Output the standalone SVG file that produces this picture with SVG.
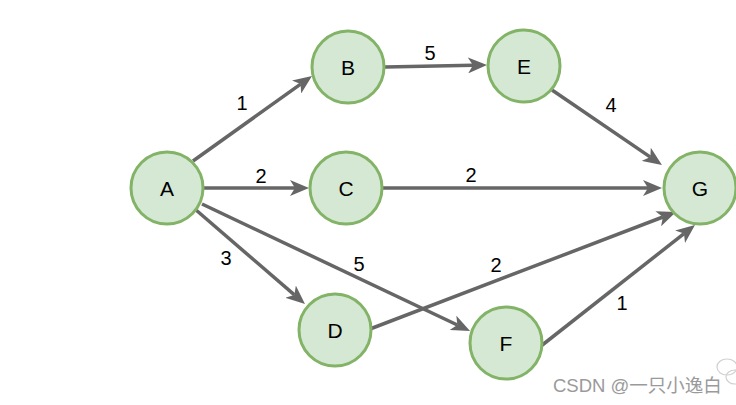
<svg xmlns="http://www.w3.org/2000/svg" width="736" height="405" viewBox="0 0 736 405">
<defs>
<marker id="arr" markerUnits="userSpaceOnUse" markerWidth="19" markerHeight="16" refX="5" refY="8" orient="auto">
<path d="M0,0 L19,8 L0,16 L5,8 z" fill="#666666"/>
</marker>
<style>
.node circle{fill:#d5e8d4;stroke:#82b366;stroke-width:3}
.node text{font-family:"Liberation Sans",Arial,sans-serif;font-size:21px;fill:#000;text-anchor:middle}
#edges line{stroke:#666666;stroke-width:3.5;marker-end:url(#arr)}
.lbl{font-family:"Liberation Sans",Arial,sans-serif;font-size:20px;fill:#000;text-anchor:middle}
.wm{font-family:"Liberation Sans","Noto Sans CJK SC",sans-serif;font-size:18.5px;fill:#9a9a9a}
</style>
</defs>
<rect width="736" height="405" fill="#ffffff"/>
<g id="edges">
<line x1="193" y1="161" x2="300.6" y2="84.1"/>
<line x1="385" y1="67" x2="473" y2="65.3"/>
<line x1="552" y1="90" x2="650.4" y2="157.1"/>
<line x1="204" y1="188" x2="295" y2="188"/>
<line x1="383" y1="188" x2="648" y2="188"/>
<line x1="196" y1="210" x2="294.4" y2="294.9"/>
<line x1="202" y1="204" x2="457.4" y2="325"/>
<line x1="370" y1="329" x2="662.9" y2="217"/>
<line x1="541" y1="346" x2="684" y2="233.6"/>
</g>
<g id="labels">
<text class="lbl" x="242" y="110">1</text>
<text class="lbl" x="430" y="60">5</text>
<text class="lbl" x="611" y="112">4</text>
<text class="lbl" x="261" y="183">2</text>
<text class="lbl" x="471" y="182">2</text>
<text class="lbl" x="226" y="265">3</text>
<text class="lbl" x="359" y="271">5</text>
<text class="lbl" x="496" y="272">2</text>
<text class="lbl" x="622" y="310">1</text>
</g>
<g id="A" class="node"><circle cx="167" cy="188" r="36"/><text x="167" y="195.5">A</text></g>
<g id="B" class="node"><circle cx="348" cy="67" r="36"/><text x="348" y="74.5">B</text></g>
<g id="E" class="node"><circle cx="524" cy="66" r="36"/><text x="524" y="73.5">E</text></g>
<g id="C" class="node"><circle cx="346" cy="188" r="36"/><text x="346" y="195.5">C</text></g>
<g id="G" class="node"><circle cx="700" cy="188" r="36"/><text x="700" y="195.5">G</text></g>
<g id="D" class="node"><circle cx="335" cy="330" r="36"/><text x="335" y="337.5">D</text></g>
<g id="F" class="node"><circle cx="506" cy="343" r="36"/><text x="506" y="350.5">F</text></g>
<g id="watermark">
<ellipse cx="727" cy="367" rx="10" ry="8" fill="none" stroke="#d0d0d0" stroke-width="1.2"/>
<ellipse cx="735" cy="377" rx="9" ry="7" fill="none" stroke="#d0d0d0" stroke-width="1.2"/>
<text class="wm" x="553" y="392">CSDN @一只小逸白</text>
</g>
</svg>
